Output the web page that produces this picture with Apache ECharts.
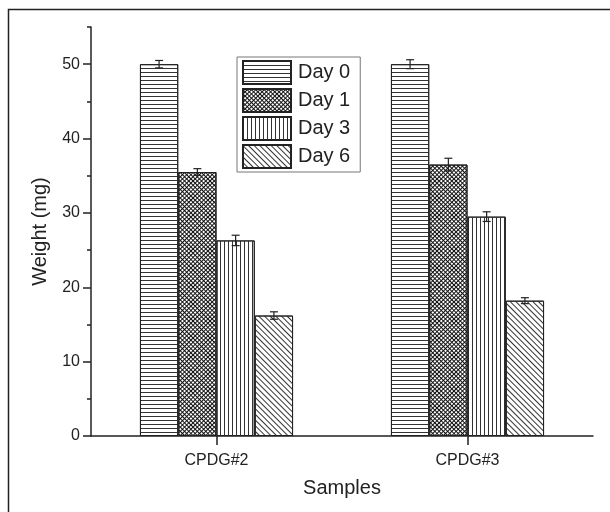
<!DOCTYPE html>
<html>
<head>
<meta charset="utf-8">
<script src="https://cdn.jsdelivr.net/npm/echarts@6/dist/echarts.min.js"></script>
<style>
  html, body { margin: 0; padding: 0; background: #fff; }
  #chart { width: 610px; height: 512px; }
</style>
</head>
<body>
<div id="chart"></div>
<script>
let categories = ['CPDG#2', 'CPDG#3']
let days = ['Day 0', 'Day 1', 'Day 3', 'Day 6']
let day0 = [50.0, 50.0]
let day1 = [35.5, 36.5]
let day3 = [26.3, 29.5]
let day6 = [16.2, 18.2]
let err0 = [0.5, 0.6]
let err1 = [0.45, 0.85]
let err3 = [0.7, 0.65]
let err6 = [0.5, 0.4]
let yTicks = [0, 10, 20, 30, 40, 50]

let values = [day0, day1, day3, day6]
let errors = [err0, err1, err3, err6]
let cat_gap = 0.39
let font = 'Liberation Sans, Arial, sans-serif'
let ink = '#222'

let decals = [
    // horizontal lines
    { symbol: 'rect', symbolSize: 1, color: '#333', dashArrayX: [1, 0], dashArrayY: [1, 3] },
    // cross hatch
    { symbol: 'rect', symbolSize: 1, color: '#111', dashArrayX: [[1, 0], [1, 2]], dashArrayY: [1, 0, 2, 0], rotation: Math.PI / 4 },
    // vertical lines
    { symbol: 'rect', symbolSize: 1, color: '#333', dashArrayX: [1, 3], dashArrayY: [1, 0] },
    // diagonal lines
    { symbol: 'rect', symbolSize: 1, color: '#333', dashArrayX: [1, 0], dashArrayY: [1, 3], rotation: Math.PI / 4 }
]

let chart = echarts.init(document.getElementById('chart'))

let series = days.map(function (name, i) {
    return {
        name: name,
        type: 'bar',
        xAxisIndex: 0,
        yAxisIndex: 0,
        data: values[i],
        barGap: '0%',
        barCategoryGap: (cat_gap * 100) + '%',
        itemStyle: {
            color: '#fff',
            borderColor: ink,
            borderWidth: 1,
            decal: decals[i]
        },
        emphasis: { disabled: true }
    }
})

let err_data = []
for (let i = 0; i < days.length; i++) {
    for (let j = 0; j < categories.length; j++) {
        err_data.push([j, values[i][j], errors[i][j], i])
    }
}

series.push({
    name: 'err',
    type: 'custom',
    xAxisIndex: 0,
    yAxisIndex: 0,
    z: 5,
    data: err_data,
    encode: { x: 0, y: 1 },
    renderItem: function (params, api) {
        let band = api.size([1, 0])[0]
        let barW = band * (1 - cat_gap) / 4
        let x = api.coord([api.value(0), 0])[0] + (api.value(3) - 1.5) * barW
        let hi = api.coord([api.value(0), api.value(1) + api.value(2)])[1]
        let lo = api.coord([api.value(0), api.value(1) - api.value(2)])[1]
        let cap = 4
        let style = { stroke: ink, lineWidth: 1.2 }
        return {
            type: 'group',
            children: [
                { type: 'line', shape: { x1: x, y1: hi, x2: x, y2: lo }, style: style },
                { type: 'line', shape: { x1: x - cap, y1: hi, x2: x + cap, y2: hi }, style: style },
                { type: 'line', shape: { x1: x - cap, y1: lo, x2: x + cap, y2: lo }, style: style }
            ]
        }
    }
})

let option = {
    animation: false,
    backgroundColor: '#fff',
    graphic: [{
        type: 'rect',
        shape: { x: 8.5, y: 9.5, width: 700, height: 600 },
        style: { fill: 'none', stroke: ink, lineWidth: 1.5 },
        silent: true
    }],
    legend: {
        data: days,
        orient: 'vertical',
        left: 237,
        top: 57,
        itemWidth: 48,
        itemHeight: 23,
        itemGap: 3,
        padding: [3, 10, 3, 5],
        borderColor: '#777',
        borderWidth: 1,
        icon: 'rect',
        selectedMode: false,
        textStyle: { fontSize: 20, color: ink, fontFamily: font, padding: [0, 0, 0, 2] }
    },
    grid: { left: 91, right: 17, top: 27, bottom: 76 },
    xAxis: [
        {
            type: 'category',
            position: 'bottom',
            data: categories,
            name: 'Samples',
            nameLocation: 'middle',
            nameGap: 42,
            nameTextStyle: { fontSize: 20, color: ink, fontFamily: font },
            axisLine: { lineStyle: { color: ink, width: 1.5 } },
            axisTick: { length: 5, lineStyle: { color: ink, width: 1.5 } },
            axisLabel: { fontSize: 16, color: ink, fontFamily: font, margin: 17 },
            splitLine: { show: false }
        },
        {
            type: 'category',
            position: 'bottom',
            data: categories,
            axisLine: { show: false },
            axisTick: { show: true, alignWithLabel: true, length: 9, lineStyle: { color: ink, width: 1.5 } },
            axisLabel: { show: false },
            splitLine: { show: false }
        }
    ],
    yAxis: [
        {
            type: 'value',
            position: 'left',
            min: 0,
            max: 55,
            interval: 10,
            name: 'Weight (mg)',
            nameLocation: 'middle',
            nameGap: 41,
            nameTextStyle: { fontSize: 20, color: ink, fontFamily: font },
            axisLine: { show: true, lineStyle: { color: ink, width: 1.5 } },
            axisTick: { show: true, length: 8, customValues: yTicks, lineStyle: { color: ink, width: 1.5 } },
            axisLabel: { fontSize: 16, color: ink, fontFamily: font, margin: 11, customValues: yTicks },
            splitLine: { show: false }
        },
        {
            type: 'value',
            position: 'left',
            min: 0,
            max: 55,
            interval: 5,
            axisLine: { show: false },
            axisTick: { show: true, length: 4, lineStyle: { color: ink, width: 1.5 } },
            axisLabel: { show: false },
            splitLine: { show: false }
        }
    ],
    series: series
}

chart.setOption(option)
</script>
</body>
</html>
